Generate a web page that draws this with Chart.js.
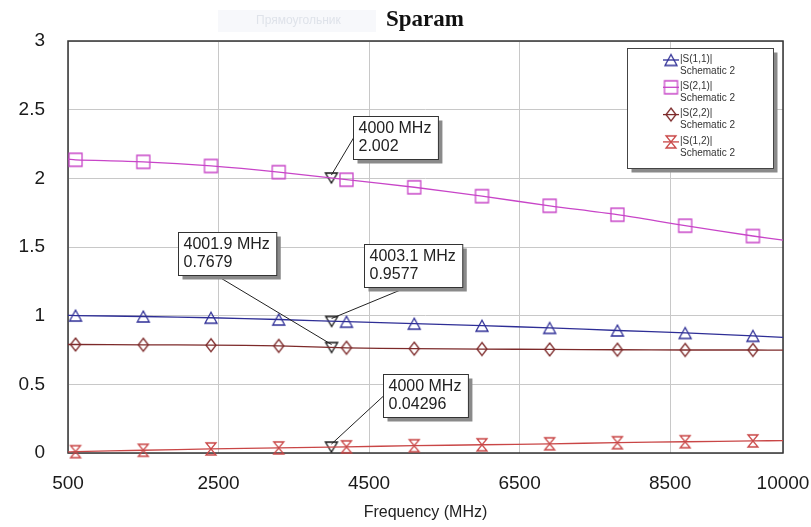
<!DOCTYPE html>
<html>
<head>
<meta charset="utf-8">
<script src="https://cdn.jsdelivr.net/npm/chart.js@4.4.0/dist/chart.umd.min.js"></script>
<style>
  html, body { margin: 0; padding: 0; background: #fff; }
  #wrap { width: 811px; height: 527px; }
</style>
</head>
<body>
<div id="wrap"><canvas id="sparamChart" width="811" height="527"></canvas></div>
<script>
// sweep points (MHz); first and last have no marker symbol
const freqs = [500, 600, 1500, 2400, 3300, 4200, 5100, 6000, 6900, 7800, 8700, 9600, 10000];

const s11 = [1.002, 1.001, 0.994, 0.985, 0.972, 0.956, 0.942, 0.927, 0.911, 0.892, 0.874, 0.853, 0.842];
const s21 = [2.14, 2.135, 2.12, 2.09, 2.045, 1.99, 1.935, 1.87, 1.80, 1.735, 1.655, 1.58, 1.55];
const s22 = [0.79, 0.79, 0.788, 0.785, 0.78, 0.766, 0.76, 0.757, 0.754, 0.752, 0.75, 0.75, 0.749];
const s12 = [0.008, 0.01, 0.02, 0.03, 0.037, 0.045, 0.053, 0.06, 0.067, 0.075, 0.082, 0.088, 0.09];

const seriesNames = ["|S(1,1)|", "|S(2,1)|", "|S(2,2)|", "|S(1,2)|"];
const seriesSub = "Schematic 2";

// marker readouts
const markerFreqs = [4000, 4003.1, 4001.9, 4000];
const markerVals = [2.002, 0.9577, 0.7679, 0.04296];
const markerText = [["4000 MHz", "2.002"], ["4003.1 MHz", "0.9577"], ["4001.9 MHz", "0.7679"], ["4000 MHz", "0.04296"]];

const xTicks = [500, 2500, 4500, 6500, 8500, 10000];

const colors = ["#2e2e96", "#c845c8", "#7d2a2a", "#c94646"];

function makeMarker(kind, color, w, h) {
    let c = document.createElement("canvas");
    c.width = w + 4;
    c.height = h + 4;
    let g = c.getContext("2d");
    g.strokeStyle = color;
    g.lineWidth = 1.3;
    let cx = c.width / 2, cy = c.height / 2;
    g.beginPath();
    if (kind === "tri") {
        g.moveTo(cx, cy - h / 2); g.lineTo(cx + w / 2, cy + h / 2); g.lineTo(cx - w / 2, cy + h / 2); g.closePath();
    } else if (kind === "down") {
        g.moveTo(cx - w / 2, cy - h / 2); g.lineTo(cx + w / 2, cy - h / 2); g.lineTo(cx, cy + h / 2); g.closePath();
    } else if (kind === "square") {
        g.rect(cx - w / 2, cy - h / 2, w, h);
    } else if (kind === "diamond") {
        g.moveTo(cx, cy - h / 2); g.lineTo(cx + w / 2, cy); g.lineTo(cx, cy + h / 2); g.lineTo(cx - w / 2, cy); g.closePath();
    } else if (kind === "hourglass") {
        g.moveTo(cx - w / 2, cy - h / 2); g.lineTo(cx + w / 2, cy - h / 2); g.lineTo(cx - w / 2, cy + h / 2);
        g.lineTo(cx + w / 2, cy + h / 2); g.closePath();
    }
    g.stroke();
    return c;
}

const markerStyles = [
    makeMarker("tri", colors[0], 12, 11),
    makeMarker("square", colors[1], 13, 13),
    makeMarker("diamond", colors[2], 10, 13),
    makeMarker("hourglass", colors[3], 10, 12)
];
const readoutStyle = makeMarker("down", "#111", 12, 10);

function series(vals, i) {
    return {
        label: seriesNames[i],
        data: freqs.map((f, k) => ({ x: f, y: vals[k] })),
        borderColor: colors[i],
        borderWidth: 1.3,
        tension: 0.3,
        pointStyle: markerStyles[i],
        pointRadius: ctx => (ctx.dataIndex === 0 || ctx.dataIndex === freqs.length - 1) ? 0 : 6,
        clip: false
    };
}

const decor = {
    id: "decor",
    beforeDraw(chart) {
        let c = chart.ctx;
        c.save();
        c.fillStyle = "#fff";
        c.fillRect(0, 0, chart.width, chart.height);
        // faint leftover shape behind the title
        c.fillStyle = "#f7f8fb";
        c.fillRect(218, 10, 158, 22);
        c.fillStyle = "#dfe3ea";
        c.font = "12px 'Liberation Sans'";
        c.textBaseline = "middle";
        c.fillText("Прямоугольник", 256, 21);
        c.fillStyle = "#111";
        c.font = "bold 23px 'Liberation Serif'";
        c.textAlign = "center";
        c.fillText("Sparam", 425, 20);
        c.restore();
    },
    beforeDatasetsDraw(chart) {
        let a = chart.chartArea, c = chart.ctx;
        c.save();
        c.strokeStyle = "#333";
        c.lineWidth = 1.5;
        c.strokeRect(a.left, a.top, a.right - a.left, a.bottom - a.top);
        c.restore();
    },
    afterDatasetsDraw(chart) {
        let c = chart.ctx;
        let xs = chart.scales.x, ys = chart.scales.y;
        // box offset from marker and where the leader joins the box
        let layout = [
            { dx: 22, dy: -62, join: "left" },
            { dx: 32, dy: -77, join: "bottom", jx: 42 },
            { dx: -154, dy: -116, join: "bottom", jx: 38 },
            { dx: 52, dy: -73, join: "left" }
        ];
        c.save();
        c.font = "16px 'Liberation Sans'";
        markerFreqs.forEach((f, i) => {
            let px = xs.getPixelForValue(f), py = ys.getPixelForValue(markerVals[i]);
            let L = layout[i];
            let w = Math.max(...markerText[i].map(t => c.measureText(t).width)) + 12;
            let h = 43;
            let bx = Math.round(px + L.dx) + 0.5, by = Math.round(py + L.dy) + 0.5;
            let ax, ay;
            if (L.join === "left") { ax = bx; ay = by + h / 2; } else { ax = bx + L.jx; ay = by + h; }
            c.strokeStyle = "#222";
            c.lineWidth = 1;
            c.beginPath();
            c.moveTo(px, py - 3);
            c.lineTo(ax, ay);
            c.stroke();
            c.fillStyle = "#8a8a8a";
            c.fillRect(bx + 4, by + 4, w, h);
            c.fillStyle = "#fff";
            c.fillRect(bx, by, w, h);
            c.strokeStyle = "#333";
            c.strokeRect(bx, by, w, h);
            c.fillStyle = "#222";
            c.textBaseline = "middle";
            c.fillText(markerText[i][0], bx + 5, by + 12);
            c.fillText(markerText[i][1], bx + 5, by + 30);
        });

        // legend
        let lx = 627.5, ly = 48.5, lw = 146, lh = 120;
        c.fillStyle = "#8a8a8a";
        c.fillRect(lx + 4, ly + 4, lw, lh);
        c.fillStyle = "#fff";
        c.fillRect(lx, ly, lw, lh);
        c.strokeStyle = "#444";
        c.lineWidth = 1;
        c.strokeRect(lx, ly, lw, lh);
        c.font = "10px 'Liberation Sans'";
        c.textBaseline = "middle";
        seriesNames.forEach((name, i) => {
            let y1 = 59 + 27.3 * i;
            let sx = 671;
            c.strokeStyle = colors[i];
            c.lineWidth = 1.3;
            c.beginPath();
            c.moveTo(sx - 8, y1 + 1);
            c.lineTo(sx + 8, y1 + 1);
            c.stroke();
            let m = markerStyles[i];
            c.drawImage(m, sx - m.width / 2, y1 + 1 - m.height / 2);
            c.fillStyle = "#333";
            c.fillText(name, 680, y1);
            c.fillText(seriesSub, 680, y1 + 12);
        });
        c.restore();
    }
};

new Chart(document.getElementById("sparamChart"), {
    type: "line",
    data: {
        datasets: [
            series(s11, 0),
            series(s21, 1),
            series(s22, 2),
            series(s12, 3),
            {
                label: "markers",
                data: markerFreqs.map((f, k) => ({ x: f, y: markerVals[k] })),
                showLine: false,
                pointStyle: readoutStyle,
                pointRadius: 6
            }
        ]
    },
    options: {
        responsive: false,
        animation: false,
        devicePixelRatio: 1,
        layout: { padding: { top: 41, right: 28, left: 0, bottom: 0 } },
        plugins: { legend: { display: false }, tooltip: { enabled: false } },
        scales: {
            x: {
                type: "linear",
                min: 500,
                max: 10000,
                afterBuildTicks: s => { s.ticks = xTicks.map(v => ({ value: v })); },
                afterFit: s => { s.height = 74; s.paddingLeft = 0; s.paddingRight = 0; },
                grid: { color: "#c8c8c8", lineWidth: 1, drawTicks: false },
                border: { display: false },
                ticks: {
                    autoSkip: false, maxRotation: 0, padding: 19,
                    color: "#1a1a1a", font: { family: "Liberation Sans", size: 19 },
                    callback: v => String(v)
                },
                title: {
                    display: true, text: "Frequency (MHz)", color: "#222",
                    font: { family: "Liberation Sans", size: 16 },
                    padding: { top: 0, bottom: 5 }
                }
            },
            y: {
                min: 0,
                max: 3,
                afterFit: s => { s.width = 68; },
                grid: { color: "#c8c8c8", lineWidth: 1, drawTicks: false },
                border: { display: false },
                ticks: {
                    stepSize: 0.5, padding: 23,
                    color: "#1a1a1a", font: { family: "Liberation Sans", size: 19 },
                    callback: v => String(v)
                }
            }
        }
    },
    plugins: [decor]
});
</script>
</body>
</html>
